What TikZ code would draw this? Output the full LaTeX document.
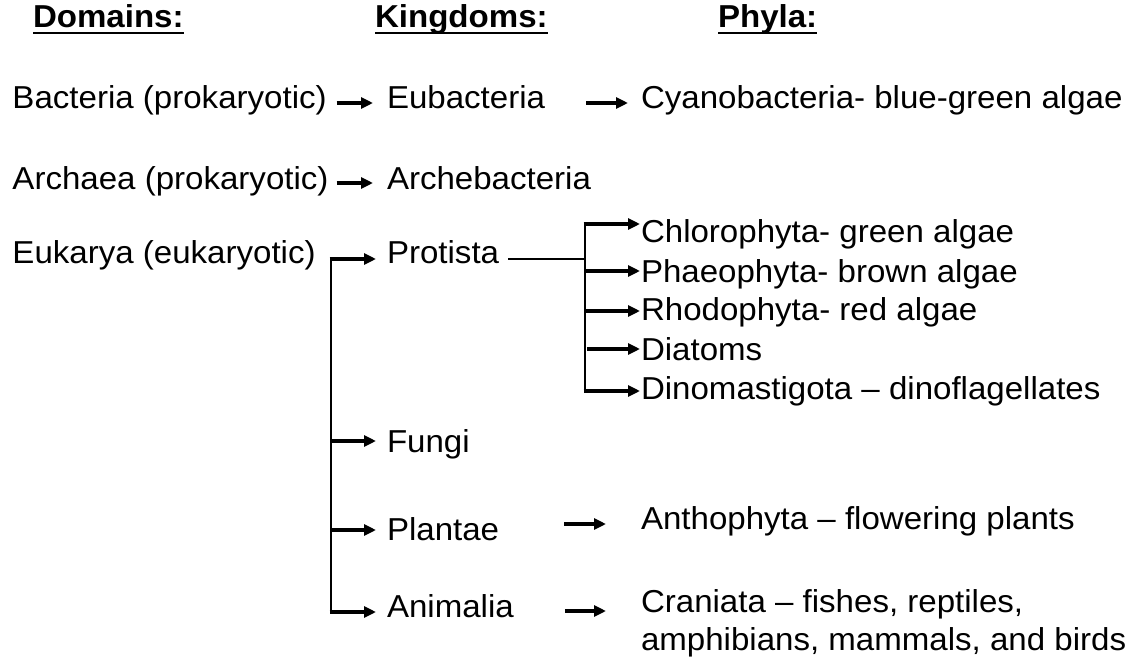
\documentclass[tikz,border=0pt]{standalone}
\usepackage{fontspec}
\setmainfont{Liberation Sans}[FakeStretch=1.043]
\usetikzlibrary{arrows.meta}
\begin{document}
\begin{tikzpicture}[x=1pt,y=-1pt,
  lbl/.style={inner sep=0pt,outer sep=0pt,anchor=base west,text height=23pt,text depth=7pt,
    font=\fontsize{31.7pt}{38pt}\selectfont},
  hdr/.style={lbl,font=\fontsize{31.7pt}{38pt}\selectfont\bfseries},
  uline/.style={line width=2.8pt},
  arr/.style={line width=3.3pt,-{Triangle[length=12pt,width=11pt]}},
  brk/.style={line width=2.8pt},
  thinline/.style={line width=1.5pt}]
\useasboundingbox[fill=white] (0,0) rectangle (1133,661);
% headers
\node[hdr] (hdom) at (33,28) {Domains:};
\node[hdr] (hking) at (375,28) {Kingdoms:};
\node[hdr] (hphy) at (718,28) {Phyla:};
\foreach \h in {hdom,hking,hphy}
  \draw[uline] ([yshift=-5pt]\h.base west) -- ([yshift=-5pt]\h.base east);
% domains
\node[lbl] (bact) at (12.5,109) {Bacteria (prokaryotic)};
\node[lbl] (arch) at (12.5,189) {Archaea (prokaryotic)};
\node[lbl] (euk) at (12.5,263) {Eukarya (eukaryotic)};
% kingdoms
\node[lbl] (eubac) at (387,109) {Eubacteria};
\node[lbl] (archb) at (387,189) {Archebacteria};
\node[lbl] (prot) at (387,263) {Protista};
\node[lbl] (fungi) at (387,452) {Fungi};
\node[lbl] (plant) at (387,540) {Plantae};
\node[lbl] (anim) at (387,617) {Animalia};
% phyla
\node[lbl] (cyano) at (641,109) {Cyanobacteria- blue-green algae};
\node[lbl] (chlor) at (641,242) {Chlorophyta- green algae};
\node[lbl] (phaeo) at (641,282) {Phaeophyta- brown algae};
\node[lbl] (rhodo) at (641,320) {Rhodophyta- red algae};
\node[lbl] (diat) at (641,360) {Diatoms};
\node[lbl] (dino) at (641,399) {Dinomastigota – dinoflagellates};
\node[lbl] (antho) at (641,529) {Anthophyta – flowering plants};
\node[lbl] (crani) at (641,612) {Craniata – fishes, reptiles,};
\node[lbl] (crani2) at (641,650) {amphibians, mammals, and birds};
% simple arrows (horizontal, end point fixed at the target)
\path ([shift={(-14pt,-2pt)}]eubac.west) coordinate (e1);
\draw[arr] ([xshift=10pt]bact.east |- e1) -- (e1);
\path ([shift={(-14pt,-2pt)}]archb.west) coordinate (e2);
\draw[arr] ([xshift=8pt]arch.east |- e2) -- (e2);
\path ([shift={(-13pt,-2pt)}]cyano.west) coordinate (e3);
\draw[arr] ([xshift=41pt]eubac.east |- e3) -- (e3);
\path ([shift={(-35pt,-3pt)}]antho.west) coordinate (e4);
\draw[arr] ([xshift=65pt]plant.east |- e4) -- (e4);
\path ([shift={(-35pt,-7pt)}]crani.west) coordinate (e5);
\draw[arr] ([xshift=51pt]anim.east |- e5) -- (e5);
% eukarya bracket
\coordinate (ebtop) at (331,259);
\coordinate (ebbot) at (331,612);
\draw[brk] (ebtop) -- (ebbot);
\draw[arr] ([xshift=-1.4pt]ebtop) -- ([shift={(-11pt,-4pt)}]prot.west);
\draw[arr] (ebtop |- 0,441) -- ([shift={(-11pt,3pt)}]fungi.west);
\draw[arr] (ebtop |- 0,530) -- ([shift={(-11pt,2pt)}]plant.west);
\draw[arr] ([xshift=-1.4pt]ebbot) -- ([shift={(-11pt,-3pt)}]anim.west);
% protista bracket
\coordinate (pbtop) at (585,224);
\coordinate (pbbot) at (585,391);
\coordinate (pbmid) at (585,259);
\draw[thinline] ([shift={(9pt,-4pt)}]prot.east) -- (pbmid);
\draw[brk] (pbtop) -- (pbbot);
\draw[arr] ([xshift=-1.4pt]pbtop) -- ([shift={(-1pt,10pt)}]chlor.west);
\draw[arr] (pbtop |- 0,271) -- ([shift={(-1pt,3pt)}]phaeo.west);
\draw[arr] (pbtop |- 0,311) -- ([shift={(-1pt,1pt)}]rhodo.west);
\draw[arr] ([xshift=2pt]pbtop |- 0,349) -- ([shift={(-1pt,3pt)}]diat.west);
\draw[arr] ([xshift=-1.4pt]pbbot) -- ([shift={(-1pt,0pt)}]dino.west);
\end{tikzpicture}
\end{document}
